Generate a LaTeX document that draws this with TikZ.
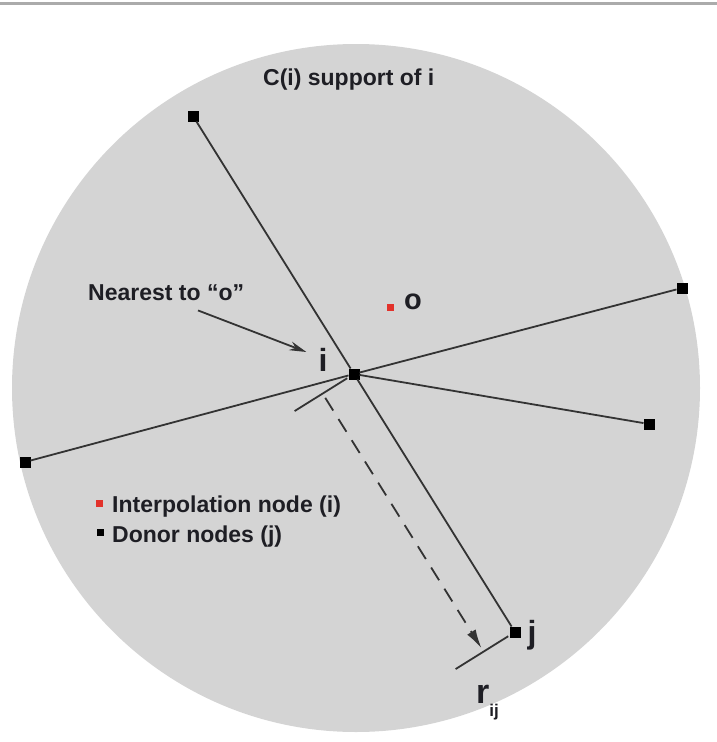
\documentclass[tikz,border=0pt]{standalone}
\usepackage{fontspec}
\setmainfont{Liberation Sans}
\usetikzlibrary{arrows.meta,positioning,calc}
\definecolor{supp}{HTML}{D4D4D4}
\definecolor{rulec}{HTML}{ABABAB}
\definecolor{interp}{HTML}{E2322B}
\definecolor{ink}{HTML}{1E1E24}

\begin{document}
\begin{tikzpicture}[
  x=1pt,y=-1pt,
  donor/.style={fill=black,minimum size=11pt,inner sep=0pt,outer sep=0pt},
  key/.style={minimum size=7pt,inner sep=0pt},
  lbl/.style={font=\bfseries\fontsize{23}{28}\selectfont,inner sep=0pt,text=ink},
  big/.style={font=\bfseries\fontsize{32}{36}\selectfont,inner sep=0pt,text=ink},
  link/.style={line width=1.8pt,black!80},
  tick/.style={line width=1.8pt,black!80},
  ar/.style={-{Stealth[length=17pt,width=9pt]},line width=1.8pt,black!80},
]
\useasboundingbox (0,0) rectangle (717,742);
\draw[rulec,line width=2.5pt] (0,3.5) -- (717,3.5);
\fill[supp] (356,388) circle (344pt);

% donor nodes
\node[donor] (i) at (354,374) {};
\node[donor] (tl) at (193,116) {};
\node[donor] (rt) at (682,288) {};
\node[donor] (rl) at (649,424) {};
\node[donor] (lf) at (25,462) {};
\node[donor] (j) at (515,632) {};
\node[key,fill=interp] (o) at (390,307) {};

\draw[link] (tl) -- (i);
\draw[link] (i) -- (j);
\draw[link] (rt) -- (i);
\draw[link] (i) -- (lf);
\draw[link] (i) -- (rl);

% labels
\node[lbl,anchor=base west] (supl) at (263,85) {C(i) support of i};
\node[lbl,anchor=base west] (near) at (88,300) {Nearest to “o”};
\node[big] (ilbl) at (323,360) {i};
\node[big] (jlbl) at (532,635) {j};
\node[big,font=\bfseries\fontsize{29}{32}\selectfont] (olbl) at (413,302) {o};
\node[lbl,anchor=base west,font=\bfseries\fontsize{34}{36}\selectfont] (rlbl) at (476,703)
  {r\raisebox{-13pt}{\fontsize{17}{18}\selectfont ij}};

\draw[ar] ($(near.south west)+(110,10)$) -- ($(ilbl.west)+(-12,-8)$);

% distance r_ij
\coordinate (ri) at ($(i.center)!37pt!-90:(j.center)$);
\coordinate (rj) at ($(j.center)!37pt!90:(i.center)$);
\draw[tick] ($(i.center)!8pt!-90:(j.center)$) -- ($(i.center)!70pt!-90:(j.center)$);
\draw[tick] ($(j.center)!8pt!90:(i.center)$) -- ($(j.center)!70pt!90:(i.center)$);
\draw[line width=1.8pt,black!80,dash pattern=on 15pt off 10pt,-{Latex[length=19pt,width=10pt]}]
  ($(ri)!5pt!(rj)$) -- ($(rj)!4pt!(ri)$);

% legend
\node[key,fill=interp] (kint) at (99,503) {};
\node[key,fill=black] (kdon) at (100,532) {};
\node[lbl,anchor=base west] (tint) at (112,512) {Interpolation node (i)};
\node[lbl,anchor=base west] (tdon) at (112,542) {Donor nodes (j)};
\end{tikzpicture}
\end{document}
